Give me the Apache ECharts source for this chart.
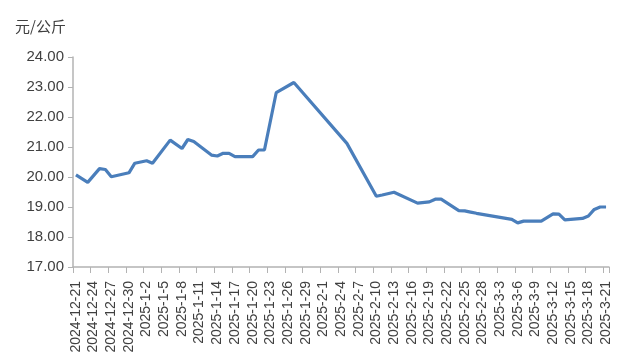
<!DOCTYPE html>
<html>
<head>
<meta charset="utf-8">
<script src="https://cdn.jsdelivr.net/npm/echarts@6/dist/echarts.min.js"></script>
<style>
html,body{margin:0;padding:0;background:#fff;}
#chart{width:621px;height:364px;}
</style>
</head>
<body>
<div id="chart"></div>
<script>
var unitLabel = '元/公斤';
var dates = [
 '2024-12-21','2024-12-22','2024-12-23','2024-12-24','2024-12-25','2024-12-26','2024-12-27','2024-12-28','2024-12-29','2024-12-30','2024-12-31',
 '2025-1-1','2025-1-2','2025-1-3','2025-1-4','2025-1-5','2025-1-6','2025-1-7','2025-1-8','2025-1-9','2025-1-10',
 '2025-1-11','2025-1-12','2025-1-13','2025-1-14','2025-1-15','2025-1-16','2025-1-17','2025-1-18','2025-1-19','2025-1-20',
 '2025-1-21','2025-1-22','2025-1-23','2025-1-24','2025-1-25','2025-1-26','2025-1-27','2025-1-28','2025-1-29','2025-1-30','2025-1-31',
 '2025-2-1','2025-2-2','2025-2-3','2025-2-4','2025-2-5','2025-2-6','2025-2-7','2025-2-8','2025-2-9','2025-2-10',
 '2025-2-11','2025-2-12','2025-2-13','2025-2-14','2025-2-15','2025-2-16','2025-2-17','2025-2-18','2025-2-19','2025-2-20',
 '2025-2-21','2025-2-22','2025-2-23','2025-2-24','2025-2-25','2025-2-26','2025-2-27','2025-2-28',
 '2025-3-1','2025-3-2','2025-3-3','2025-3-4','2025-3-5','2025-3-6','2025-3-7','2025-3-8','2025-3-9','2025-3-10',
 '2025-3-11','2025-3-12','2025-3-13','2025-3-14','2025-3-15','2025-3-16','2025-3-17','2025-3-18','2025-3-19','2025-3-20','2025-3-21'
];
var prices = [
 20.07,null,19.82,null,20.28,20.25,20.01,null,null,20.14,20.46,
 null,20.54,20.46,null,null,21.23,null,20.95,21.25,21.18,
 null,null,20.73,20.70,20.79,20.79,20.68,null,null,20.68,
 20.90,20.90,null,22.81,null,null,23.15,null,null,null,null,
 null,null,null,null,21.12,null,null,null,null,19.36,
 19.40,null,19.49,null,null,null,19.13,null,19.17,19.26,
 19.26,null,null,18.88,18.87,18.83,18.79,null,
 null,null,null,null,18.59,18.47,18.53,null,null,18.53,
 null,18.77,18.76,18.57,null,null,18.62,18.70,18.92,19.00,19.00
];
var yMin = 17, yMax = 24, yStep = 1;

var chart = echarts.init(document.getElementById('chart'), null, {renderer:'canvas'});
chart.setOption({
  animation:false,
  backgroundColor:'#ffffff',
  title:{
    text:unitLabel, left:10, top:14,
    textStyle:{fontSize:15,fontWeight:'normal',color:'#404040',fontFamily:'Noto Sans CJK SC'}
  },
  grid:{left:73,right:12,top:57,bottom:97,containLabel:false},
  xAxis:{
    type:'category',
    data:dates,
    boundaryGap:true,
    axisLine:{lineStyle:{color:'#b3b3b3',width:1.5}},
    axisTick:{show:true,interval:2,length:6,lineStyle:{color:'#b3b3b3'}},
    axisLabel:{interval:2,rotate:90,margin:14,fontSize:14,color:'#404040',fontFamily:'Liberation Sans'},
    splitLine:{show:false}
  },
  yAxis:{
    type:'value',
    min:yMin,max:yMax,interval:yStep,
    axisLine:{show:true,lineStyle:{color:'#b3b3b3',width:1.5}},
    axisTick:{show:true,length:5,lineStyle:{color:'#b3b3b3'}},
    axisLabel:{margin:9,fontSize:15,color:'#404040',fontFamily:'Liberation Sans',
      formatter:function(v){return v.toFixed(2);}},
    splitLine:{show:false}
  },
  series:[{
    type:'line',
    data:prices,
    connectNulls:true,
    showSymbol:false,
    symbol:'none',
    lineStyle:{color:'#4a7ebb',width:3.2}
  }]
});
</script>
</body>
</html>
